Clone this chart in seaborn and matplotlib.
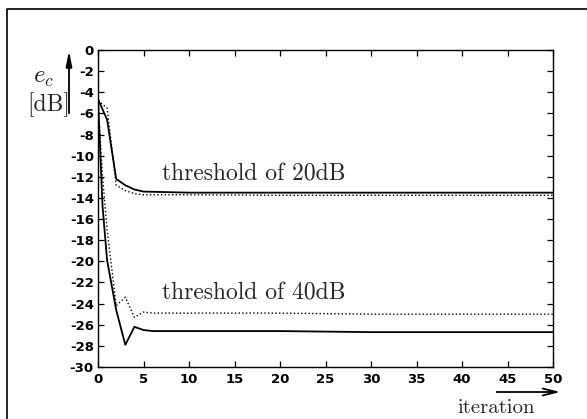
import matplotlib
matplotlib.use("Agg")
import matplotlib.pyplot as plt
import seaborn as sns
import pandas as pd
from matplotlib.lines import Line2D

# ---- data ----
iter_20 = [0, 1, 2, 3, 4, 5, 10, 20, 30, 40, 50]
solid_20 = [-4.65, -6.6, -12.2, -12.8, -13.2, -13.4, -13.5, -13.5, -13.5, -13.5, -13.5]
dotted_20 = [-4.8, -5.5, -12.8, -13.3, -13.6, -13.7, -13.7, -13.75, -13.75, -13.75, -13.75]

iter_40 = [0, 0.5, 1, 2, 3, 4, 5, 6, 10, 20, 30, 40, 50]
solid_40 = [-4.65, -14.8, -19.9, -24.6, -27.9, -26.2, -26.5, -26.6, -26.6, -26.6, -26.7, -26.7, -26.7]
dotted_40 = [-4.8, -12.0, -17.0, -24.2, -23.4, -25.3, -24.8, -24.9, -24.9, -24.9, -25.0, -25.0, -25.0]

x_ticks = list(range(0, 51, 5))
y_ticks = list(range(-30, 1, 2))

label_20 = "threshold of 20dB"
label_40 = "threshold of 40dB"
x_label = "iteration"
y_label_top = r"$e_c$"
y_label_bot = "[dB]"

sns.set_style("ticks")
plt.rcParams["font.family"] = ["DejaVu Sans"]
plt.rcParams["axes.unicode_minus"] = False
plt.rcParams["mathtext.fontset"] = "cm"

W, H = 587, 419
fig = plt.figure(figsize=(W / 100, H / 100), dpi=100)
ax = fig.add_axes([98 / W, 1 - 367 / H, (553 - 98) / W, (367 - 50) / H])

df = pd.concat([
    pd.DataFrame({"it": iter_20, "v": solid_20, "s": "s20"}),
    pd.DataFrame({"it": iter_20, "v": dotted_20, "s": "d20"}),
    pd.DataFrame({"it": iter_40, "v": solid_40, "s": "s40"}),
    pd.DataFrame({"it": iter_40, "v": dotted_40, "s": "d40"}),
])
for name, ls, lw in [("s20", "-", 1.3), ("d20", ":", 1.0), ("s40", "-", 1.3), ("d40", ":", 1.0)]:
    sns.lineplot(data=df[df.s == name], x="it", y="v", color="black", linestyle=ls,
                 linewidth=lw, sort=False, estimator=None, ax=ax, legend=False)

ax.set_xlim(0, 50)
ax.set_ylim(-30, 0)
ax.set_xticks(x_ticks)
ax.set_yticks(y_ticks)
ax.set_xlabel("")
ax.set_ylabel("")
ax.tick_params(direction="in", top=True, right=True, length=4, width=0.9,
               labelsize=9.5, pad=3, colors="black")
ax.tick_params(axis="x", pad=4)
for lab in ax.get_xticklabels() + ax.get_yticklabels():
    lab.set_fontweight("bold")
for sp in ax.spines.values():
    sp.set_linewidth(1.0)
    sp.set_color("black")

ax.text(7.0, -12.36, label_20, fontfamily="cmr10", fontsize=17, ha="left", va="baseline")
ax.text(7.0, -23.6, label_40, fontfamily="cmr10", fontsize=17, ha="left", va="baseline")

# y label and arrow
fig.text(33 / W, 1 - 77 / H, y_label_top, fontsize=18, ha="left", va="center")
fig.text(27 / W, 1 - 105 / H, y_label_bot, fontfamily="cmr10", fontsize=17, ha="left", va="center")
ax.annotate("", xy=(69 / W, 1 - 48 / H), xytext=(69 / W, 1 - 116 / H),
            xycoords="figure fraction", textcoords="figure fraction",
            arrowprops=dict(arrowstyle="-|>,head_length=0.9,head_width=0.18", color="black", lw=1.3))

# x label and arrow
fig.text(457 / W, 1 - 413 / H, x_label, fontfamily="cmr10", fontsize=15, ha="left", va="baseline")
ax.annotate("", xy=(563 / W, 1 - 392 / H), xytext=(494 / W, 1 - 392 / H),
            xycoords="figure fraction", textcoords="figure fraction",
            arrowprops=dict(arrowstyle="->,head_length=1.0,head_width=0.25", color="black", lw=1.3))

# outer frame (left and top edges visible)
fig.add_artist(Line2D([7 / W, 7 / W, 1.0], [0.0, 1 - 9 / H, 1 - 9 / H],
                      transform=fig.transFigure, color="black", lw=1.2))

fig.savefig("out.png", dpi=100)
